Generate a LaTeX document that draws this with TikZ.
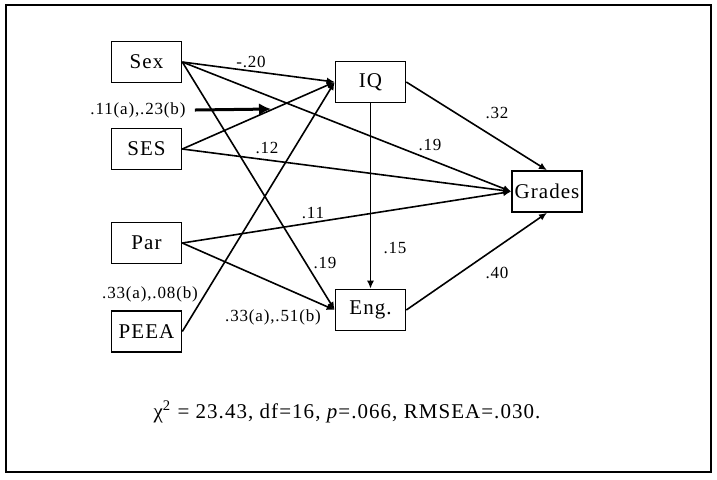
\documentclass[tikz,border=0pt]{standalone}
\usepackage{fontspec}
\setmainfont{Liberation Serif}[LetterSpace=5]
\usetikzlibrary{arrows.meta}
\begin{document}
\begin{tikzpicture}[x=0.5pt,y=-0.5pt,
    var/.style={draw,line width=0.8pt,minimum width=35pt,minimum height=20.5pt,inner sep=0pt,font=\fontsize{10.5}{12}\selectfont},
    effect/.style={line width=0.8pt,-{Latex[length=4pt,width=3.5pt]}},
    coef/.style={inner sep=0pt,font=\fontsize{8.5}{10}\selectfont}]
    \useasboundingbox (0,0) rectangle (717,479);
    % frame
    \draw [line width=1pt] (6,5) rectangle (711,472);
    % variables
    \node [var] (sex) at (146.5,62) {Sex};
    \node [var] (ses) at (146.5,149) {SES};
    \node [var] (par) at (146.5,243) {Par};
    \node [var] (peea) at (146.5,331.5) {PEEA};
    \node [var] (iq) at (370.5,82) {IQ};
    \node [var] (eng) at (370.5,310) {Eng.};
    \node [var] (grades) at (547,191.5) {Grades};
    % paths
    \draw [effect] (sex.east) -- (iq.west);
    \draw [effect] (sex.east) -- (grades.west);
    \draw [effect] (sex.east) -- (eng.west);
    \draw [effect] (ses.east) -- (iq.west);
    \draw [effect] (ses.east) -- (grades.west);
    \draw [effect] (par.east) -- (grades.west);
    \draw [effect] (par.east) -- (eng.west);
    \draw [effect] (peea.east) -- (iq.west);
    \draw [effect] (iq.east) -- (grades.north);
    \draw [effect] (iq.south) -- (eng.north);
    \draw [effect] (eng.east) -- (grades.south);
    % interaction arrow
    \node [coef] (inter) at (138,110) {.11(a),.23(b)};
    \coordinate (interend) at (271,109);
    \draw [line width=1.5pt,-{Latex[length=6pt,width=6pt]}] (inter.east) ++(9,0) -- (interend);
    % coefficients
    \node [coef] (csexiq) at (251,62) {-.20};
    \node [coef] (csexgr) at (430,145) {.19};
    \node [coef] (csesgr) at (267,148) {.12};
    \node [coef] (cpargr) at (313,213) {.11};
    \node [coef] (csexen) at (325,263) {.19};
    \node [coef] (ciqen) at (395,248) {.15};
    \node [coef] (ciqgr) at (497,113) {.32};
    \node [coef] (cengr) at (497,273) {.40};
    \node [coef] (cpeea) at (150,294) {.33(a),.08(b)};
    \node [coef] (cparen) at (273,317) {.33(a),.51(b)};
    % fit
    \node [coef,font=\fontsize{10.5}{12}\selectfont] (fit) at (347,412) {χ\textsuperscript{2} = 23.43, df=16, \textit{p}=.066, RMSEA=.030.};
\end{tikzpicture}
\end{document}
